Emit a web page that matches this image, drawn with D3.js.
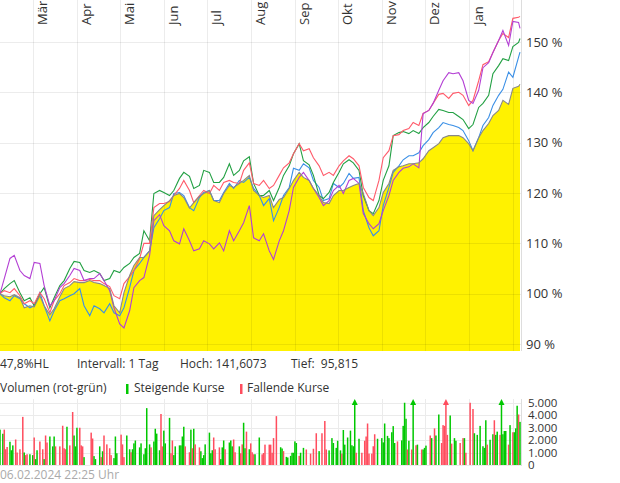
<!DOCTYPE html>
<html>
<head>
<meta charset="utf-8">
<script src="https://cdn.jsdelivr.net/npm/d3@7"></script>
<style>
body { margin: 0; background: #fff; }
text { font-family: "Open Sans", sans-serif; fill: #333; font-size: 12px; }
</style>
</head>
<body>
<div id="chart"></div>
<script>
// ---- data -------------------------------------------------------------
var monthLabels = ["Jan", "Feb", "Mär", "Apr", "Mai", "Jun", "Jul", "Aug", "Sep", "Okt", "Nov", "Dez"];

// sample dates: every Monday and Thursday from 06.02.2023, plus the last day 06.02.2024
var firstDay = "2023-02-06", lastDay = "2024-02-06";

// main series (yellow area), in percent
var mainSeries = [100.0, 99.6, 99.4, 99.8, 99.2, 97.2, 97.6, 97.4, 99.6, 97.6, 95.82, 97.0, 99.4, 101.0, 101.6, 102.4,
    102.2, 102.2, 102.6, 102.2, 102.0, 101.6, 101.0, 97.6, 96.2, 100.2, 103.6, 105.6, 107.2, 107.2, 108.5, 115.5,
    116.7, 117.5, 118.5, 119.5, 119.9, 119.1, 117.0, 118.1, 119.3, 119.9, 120.5, 118.5, 118.1, 119.9, 121.5, 121.1,
    121.9, 122.5, 123.5, 120.5, 119.5, 119.1, 119.5, 117.1, 118.7, 119.1, 120.9, 122.5, 124.1, 123.1, 122.5, 120.9,
    119.5, 118.1, 117.9, 119.5, 120.5, 120.5, 121.1, 121.5, 121.9, 119.9, 116.5, 115.5, 117.1, 120.1, 121.9, 124.5,
    125.2, 125.4, 125.8, 125.8, 126.0, 126.8, 128.4, 129.0, 129.8, 131.0, 131.4, 131.4, 131.4, 131.0, 129.8, 128.4,
    131.0, 132.4, 133.8, 135.4, 136.4, 138.4, 137.6, 140.8, 141.2, 141.61];
var blueSeries = [100.0, 99.2, 98.6, 99.6, 99.0, 98.0, 97.2, 97.6, 100.2, 97.6, 94.6, 96.6, 98.6, 99.0, 99.6, 100.0,
    101.0, 97.6, 95.6, 97.6, 97.0, 96.2, 98.0, 96.2, 95.6, 97.2, 101.2, 104.6, 106.0, 107.2, 108.5, 113.1,
    114.9, 116.5, 117.1, 119.9, 120.1, 119.5, 117.1, 116.5, 119.1, 120.1, 120.5, 118.5, 118.5, 120.1, 121.9, 120.9,
    122.5, 122.1, 123.1, 120.9, 119.5, 117.5, 118.9, 114.5, 117.1, 119.5, 121.1, 124.9, 124.5, 125.8, 125.0, 122.5,
    121.1, 118.5, 118.9, 121.9, 121.1, 121.9, 123.9, 122.9, 123.1, 116.5, 113.1, 111.5, 112.5, 117.5, 121.1, 124.1,
    125.4, 126.6, 127.4, 127.4, 128.0, 129.4, 130.6, 132.0, 133.0, 134.0, 133.6, 133.4, 133.0, 132.4, 130.4, 128.4,
    131.0, 133.4, 135.0, 137.4, 139.4, 140.6, 144.0, 143.0, 147.0, 148.0];
var greenSeries = [100.0, 101.0, 102.0, 102.6, 100.2, 98.6, 99.2, 97.6, 100.0, 101.2, 97.2, 99.2, 101.6, 102.6, 105.0, 106.4,
    106.2, 104.6, 104.2, 104.6, 104.0, 102.6, 103.0, 104.6, 104.2, 105.2, 106.0, 107.2, 108.0, 112.5, 110.5, 119.9,
    120.5, 120.1, 119.5, 120.5, 122.9, 124.1, 123.3, 120.9, 121.5, 124.5, 124.1, 122.1, 122.1, 123.1, 125.8, 123.5,
    124.5, 126.4, 127.2, 121.9, 119.5, 119.5, 120.5, 118.5, 121.1, 123.5, 125.4, 127.8, 129.8, 126.4, 125.6, 123.5,
    119.5, 118.9, 120.1, 122.1, 124.1, 125.8, 126.6, 126.0, 124.5, 119.5, 116.5, 115.9, 118.5, 122.5, 125.4, 131.4,
    132.0, 132.2, 131.8, 132.4, 131.8, 133.0, 134.0, 135.2, 136.6, 136.4, 136.0, 136.0, 135.2, 134.6, 132.8, 133.6,
    137.0, 137.8, 139.4, 143.7, 145.3, 146.7, 146.3, 149.1, 149.9, 150.7];
var redSeries = [100.0, 100.6, 100.2, 101.0, 99.6, 98.0, 98.6, 98.0, 100.2, 99.0, 96.2, 98.6, 100.0, 101.6, 102.2, 103.0,
    102.6, 102.6, 102.8, 102.6, 102.6, 102.0, 101.4, 99.6, 99.0, 102.0, 103.4, 104.6, 107.0, 110.0, 110.0, 117.1,
    117.9, 117.9, 118.3, 119.5, 120.9, 122.5, 120.5, 118.1, 119.5, 120.5, 119.9, 121.5, 120.5, 122.1, 122.5, 122.1,
    121.9, 124.5, 126.0, 121.9, 121.5, 122.5, 120.9, 121.5, 123.5, 125.0, 126.0, 127.8, 129.8, 128.4, 128.8, 127.0,
    125.4, 123.5, 124.1, 123.5, 125.4, 126.4, 127.4, 126.8, 125.4, 121.1, 119.1, 118.5, 122.5, 127.0, 128.4, 131.4,
    131.6, 132.4, 132.8, 134.0, 133.4, 135.8, 136.4, 137.8, 139.6, 139.8, 138.8, 139.8, 140.0, 139.4, 137.4, 138.4,
    142.3, 145.5, 146.1, 147.9, 150.3, 151.7, 150.9, 154.7, 154.9, 155.1];
var purpleSeries = [100.0, 103.0, 107.0, 107.6, 104.6, 103.6, 103.0, 106.2, 106.0, 101.6, 97.6, 98.6, 101.2, 102.0, 103.6, 105.0,
    104.6, 102.6, 103.0, 103.0, 104.0, 102.6, 100.6, 97.2, 94.0, 93.2, 96.6, 101.2, 102.6, 103.2, 107.6, 114.5,
    115.7, 113.5, 112.5, 110.5, 109.9, 112.9, 110.5, 108.5, 108.9, 110.5, 109.9, 108.9, 110.1, 108.5, 112.5, 110.5,
    112.5, 114.1, 117.5, 111.1, 110.5, 111.9, 108.5, 106.8, 110.5, 112.5, 116.5, 121.1, 123.1, 124.1, 122.5, 120.9,
    119.1, 117.5, 118.5, 120.5, 121.5, 119.9, 122.5, 122.9, 121.9, 115.9, 113.9, 112.9, 113.9, 116.5, 119.5, 122.5,
    124.1, 124.9, 125.2, 125.8, 125.0, 135.8, 136.4, 137.8, 140.4, 142.3, 143.9, 143.7, 143.9, 142.3, 138.4, 137.8,
    140.4, 144.9, 145.9, 147.9, 150.3, 152.3, 149.3, 154.1, 153.9, 152.7];

var priceTicks = [90, 100, 110, 120, 130, 140, 150];
var volumeTicks = [0, 1000, 2000, 3000, 4000, 5000];

// volume: days since 06.02.2023, volume, 1 = steigend / 0 = fallend
var volDays = [0, 2, 3, 4, 5, 7, 8, 9, 11, 12, 14, 16, 17, 18, 19, 21, 23, 24, 25, 26, 28, 30, 31, 32, 33, 35, 37, 38, 39, 42,
    44, 45, 46, 47, 49, 51, 52, 53, 54, 56, 57, 58, 59, 64, 65, 66, 67, 70, 71, 72, 73, 75, 77, 78, 80, 81, 82, 85, 86, 87,
    89, 91, 92, 93, 94, 95, 98, 99, 101, 102, 103, 105, 106, 108, 109, 110, 112, 113, 114, 115, 116, 119, 120, 121, 122, 123,
    126, 127, 128, 129, 130, 133, 134, 135, 136, 137, 140, 141, 142, 143, 144, 147, 148, 149, 150, 151, 154, 155, 156, 157,
    158, 161, 162, 163, 164, 165, 168, 169, 170, 171, 172, 173, 175, 176, 177, 178, 179, 182,
    184, 185, 186, 189, 190, 191, 192, 194, 197, 198, 199, 201, 202, 204, 205, 206, 207, 208, 210, 211, 213, 215, 218, 220,
    222, 224, 226, 228, 229, 231, 233, 234, 236, 237, 239, 240, 241, 242, 244, 246, 247, 248, 249, 250, 252, 254, 256, 257,
    258, 259, 261, 262, 263, 265, 268, 269, 270, 272, 273, 275, 276, 277, 279, 282, 283, 284, 285, 286, 287, 289, 290, 292,
    293, 296, 297, 298, 299, 302, 303, 305, 306, 308, 310, 311, 312, 313, 314, 316, 317, 319, 320, 323, 325, 326, 327, 330,
    332, 333, 335, 337, 339, 340, 341, 342, 344, 346, 347, 348, 349, 351, 352, 353, 354, 355, 357, 358, 360, 361, 362, 363,
    364, 365];
var volValues = [2830, 2500, 2830, 1260, 1440, 1860, 1180, 1570, 2040, 1000, 1260, 3850, 1000, 790, 860, 860, 790, 2200, 470, 1180,
    1880, 1260, 470, 2360, 1800, 2280, 1490, 2280, 1490, 1490, 3140, 1340, 1260, 3060, 1570, 4240, 2360, 1490, 2980, 2980,
    1570, 1490, 630, 2590, 2120, 710, 470, 1490, 630, 1100, 2360, 1650, 1340, 790, 550, 2280, 940, 2430, 1650, 630,
    2360, 1260, 1020, 1260, 1730, 1960, 1410, 1730, 860, 1340, 4550, 1650, 1410, 1880, 2900, 2510, 1180, 4080, 1490, 2750,
    1730, 3770, 940, 1960, 790, 1490, 1570, 1570, 2280, 3060, 1490, 1020, 2830, 1340, 2900, 1650, 1410, 1100, 550, 790,
    1650, 2590, 940, 1180, 2200, 1260, 1410, 470, 1410, 1960, 1260, 1800, 1960, 1490, 2040, 1020, 1490, 940, 1650, 3380,
    1340, 2670, 1260, 1730, 1020, 860, 860, 2200,
    850, 960, 1630, 1630, 1630, 980, 2150, 3910, 1420, 1320, 1110, 650, 600, 730, 980, 980, 1890, 1760, 730, 980,
    1370, 1240, 910, 1300, 2540, 1110, 2540, 3520, 1240, 1170, 2150, 1760, 1370, 1940, 1170, 910, 2800, 1630, 2200, 2750,
    1580, 1500, 6500, 980, 2100, 980, 1940, 2280, 3320, 910, 910, 1500, 2460, 2100, 2150, 1810, 3320, 2330, 2150, 2620,
    3110, 1760, 1890, 1970, 3130, 4980, 3700, 1240, 1940, 1240, 6500, 1580, 1630, 1240, 1240, 1370, 1550, 2360, 2150, 2930,
    2360, 4040, 1760, 3190, 3130, 6500, 2410, 3960, 1710, 2150, 1940, 1760, 2150, 2150, 980, 4980, 4480, 2540, 2410, 3130,
    1500, 1370, 3580, 1630, 2020, 2460, 3580, 2410, 2670, 2410, 6500, 2460, 2720, 2720, 1630, 3190, 2620, 2620, 2930, 4740,
    4040, 3450];
var volRising = [1, 1, 0, 0, 0, 1, 1, 1, 0, 0, 0, 0, 1, 0, 0, 1, 1, 0, 1, 1, 0, 0, 1, 0, 0, 1, 1, 1, 0, 0,
    0, 0, 0, 1, 0, 0, 1, 1, 1, 0, 0, 0, 1, 0, 0, 1, 1, 1, 0, 1, 0, 0, 0, 0, 1, 1, 1, 0, 0, 0,
    1, 1, 0, 1, 1, 1, 1, 1, 1, 1, 1, 1, 0, 1, 1, 1, 1, 0, 0, 1, 1, 1, 0, 0, 1, 1,
    1, 1, 1, 1, 0, 0, 1, 0, 1, 0, 0, 1, 1, 1, 1, 1, 1, 1, 0, 0, 0, 1, 1, 1,
    0, 1, 1, 1, 0, 0, 1, 0, 0, 1, 1, 0, 1, 0, 0, 0, 1, 1,
    0, 0, 0, 0, 0, 0, 0, 0, 1, 1, 0, 1, 1, 1, 1, 1, 1, 1, 0, 1, 1, 0, 0, 0,
    0, 1, 0, 0, 0, 1, 1, 1, 1, 1, 1, 0, 1, 1, 1, 1, 1, 1, 1, 0, 1, 0, 0, 0,
    0, 0, 0, 0, 0, 1, 1, 1, 1, 1, 1, 1, 1, 1, 0, 1, 1, 1, 1, 0, 1, 0, 1, 0,
    1, 0, 1, 1, 1, 0, 1, 0, 1, 1, 0, 0, 0, 0, 0, 1, 0, 1, 1, 0, 0, 1, 0, 0,
    0, 1, 1, 1, 1, 1, 1, 0, 1, 1, 0, 1, 1, 0, 1, 1, 1, 1, 0, 1, 0, 1, 1, 1,
    0, 1];

var infoTexts = ["47,8%HL", "Intervall: 1 Tag", "Hoch: 141,6073", "Tief:  95,815"];
var timestamp = "06.02.2024 22:25 Uhr";

// ---- chart ------------------------------------------------------------
var width = 620, height = 483;
var plotRight = 521;
var priceBottom = 351;
var volTop = 399, volBottom = 465;

var parseDate = d3.timeParse("%Y-%m-%d");
var startDate = parseDate(firstDay),
    endDate = parseDate(lastDay);

// Mondays and Thursdays of the period, then the final day
var dates = d3.timeDay.range(startDate, endDate).filter(function(d) {
    return d.getDay() === 1 || d.getDay() === 4;
});
dates.push(endDate);

var de = d3.formatLocale({decimal: ",", thousands: ".", grouping: [3], currency: ["", " €"]});
var fmtVol = de.format(",");

var svg = d3.select("#chart").append("svg")
    .attr("width", width)
    .attr("height", height);

var x = d3.scaleTime().domain([startDate, endDate]).range([0, 520]);
var y = d3.scaleLinear().domain([90, 150]).range([344, 42]);
var yv = d3.scaleLinear().domain([0, 5000]).range([volBottom, 402.5]);

var rows = dates.map(function(d, i) {
    return {date: d, main: mainSeries[i], blue: blueSeries[i], green: greenSeries[i],
        red: redSeries[i], purple: purpleSeries[i]};
});

var months = d3.timeMonth.range(parseDate("2023-03-01"), parseDate("2024-02-02"));

// yellow area of the main series
var area = d3.area()
    .x(function(d) { return x(d.date); })
    .y0(priceBottom)
    .y1(function(d) { return y(d.main); });

svg.append("path")
    .datum(rows)
    .attr("d", area)
    .style("fill", "#fff200");

// grid on top of the area
var grid = svg.append("g");
grid.selectAll("line.h")
    .data(priceTicks)
    .enter().append("line")
    .attr("x1", 0).attr("x2", plotRight)
    .attr("y1", function(d) { return Math.round(y(d)) + 0.5; })
    .attr("y2", function(d) { return Math.round(y(d)) + 0.5; })
    .style("stroke", "rgba(0,0,0,0.075)");
grid.selectAll("line.v")
    .data(months)
    .enter().append("line")
    .attr("x1", function(d) { return Math.round(x(d)) + 0.5; })
    .attr("x2", function(d) { return Math.round(x(d)) + 0.5; })
    .attr("y1", 0).attr("y2", priceBottom)
    .style("stroke", "rgba(0,0,0,0.075)");

svg.append("line")
    .attr("x1", plotRight + 0.5).attr("x2", plotRight + 0.5)
    .attr("y1", 0).attr("y2", priceBottom)
    .style("stroke", "#ddd");

// comparison lines
var lineSpecs = [
    {key: "blue", color: "#3a8fe6"},
    {key: "green", color: "#22a043"},
    {key: "red", color: "#ff5a6a"},
    {key: "purple", color: "#b33fd4"},
    {key: "main", color: "#888888"}
];

lineSpecs.forEach(function(s) {
    var line = d3.line()
        .x(function(d) { return x(d.date); })
        .y(function(d) { return y(d[s.key]); });
    svg.append("path")
        .datum(rows)
        .attr("d", line)
        .style("fill", "none")
        .style("stroke", s.color)
        .style("stroke-width", 1.1);
});

// month labels, rotated
svg.selectAll("text.month")
    .data(months.filter(function(d) { return d.getMonth() !== 1; }))
    .enter().append("text")
    .attr("transform", function(d) { return "translate(" + (x(d) + 14) + ",25) rotate(-90)"; })
    .style("font-size", "13px")
    .text(function(d) { return monthLabels[d.getMonth()]; });

// price axis labels
svg.selectAll("text.pct")
    .data(priceTicks)
    .enter().append("text")
    .attr("x", 526)
    .attr("y", function(d) { return y(d); })
    .attr("dy", "0.36em")
    .style("font-size", "13px")
    .text(function(d) { return d + " %"; });

// info row
var infoX = [0, 77, 180, 291];
svg.selectAll("text.info")
    .data(infoTexts)
    .enter().append("text")
    .attr("x", function(d, i) { return infoX[i]; })
    .attr("y", 368)
    .style("white-space", "pre")
    .text(function(d) { return d; });

// volume legend
svg.append("text").attr("x", 0).attr("y", 392).text("Volumen (rot-grün)");
svg.append("rect").attr("x", 126).attr("y", 384).attr("width", 2.5).attr("height", 10).style("fill", "#00c800");
svg.append("text").attr("x", 134).attr("y", 392).text("Steigende Kurse");
svg.append("rect").attr("x", 240).attr("y", 384).attr("width", 2.5).attr("height", 10).style("fill", "#ff4d5e");
svg.append("text").attr("x", 247).attr("y", 392).text("Fallende Kurse");

// volume grid
var vgrid = svg.append("g");
vgrid.selectAll("line.h")
    .data(volumeTicks)
    .enter().append("line")
    .attr("x1", 0).attr("x2", plotRight)
    .attr("y1", function(d) { return Math.round(yv(d)) + 0.5; })
    .attr("y2", function(d) { return Math.round(yv(d)) + 0.5; })
    .style("stroke", "#ebebeb");
vgrid.selectAll("line.v")
    .data(months)
    .enter().append("line")
    .attr("x1", function(d) { return Math.round(x(d)) + 0.5; })
    .attr("x2", function(d) { return Math.round(x(d)) + 0.5; })
    .attr("y1", volTop).attr("y2", volBottom)
    .style("stroke", "#ebebeb");
svg.append("line")
    .attr("x1", plotRight + 0.5).attr("x2", plotRight + 0.5)
    .attr("y1", volTop).attr("y2", volBottom + 1)
    .style("stroke", "#ddd");

// volume bars
var volData = volDays.map(function(d, i) {
    return {date: d3.timeDay.offset(startDate, d), v: volValues[i], up: volRising[i] === 1};
});
var barW = 1.5;
svg.selectAll("rect.vol")
    .data(volData)
    .enter().append("rect")
    .attr("x", function(d) { return x(d.date) - barW / 2; })
    .attr("y", function(d) { return yv(Math.min(d.v, 5000)); })
    .attr("width", barW)
    .attr("height", function(d) { return volBottom - yv(Math.min(d.v, 5000)); })
    .style("fill", function(d) { return d.up ? "#00c800" : "#ff4d5e"; });

// arrows for bars above the scale
svg.selectAll("path.clip")
    .data(volData.filter(function(d) { return d.v > 5000; }))
    .enter().append("path")
    .attr("d", function(d) {
        var cx = x(d.date);
        return "M" + (cx - 3) + ",405L" + cx + ",399L" + (cx + 3) + ",405Z";
    })
    .style("fill", function(d) { return d.up ? "#00c800" : "#ff4d5e"; });

// volume axis labels
svg.selectAll("text.vol")
    .data(volumeTicks)
    .enter().append("text")
    .attr("x", 528)
    .attr("y", function(d) { return yv(d); })
    .attr("dy", "0.36em")
    .style("font-size", "11.5px")
    .text(function(d) { return fmtVol(d); });

svg.append("text")
    .attr("x", 0)
    .attr("y", 479)
    .style("fill", "#aaa")
    .text(timestamp);
</script>
</body>
</html>
